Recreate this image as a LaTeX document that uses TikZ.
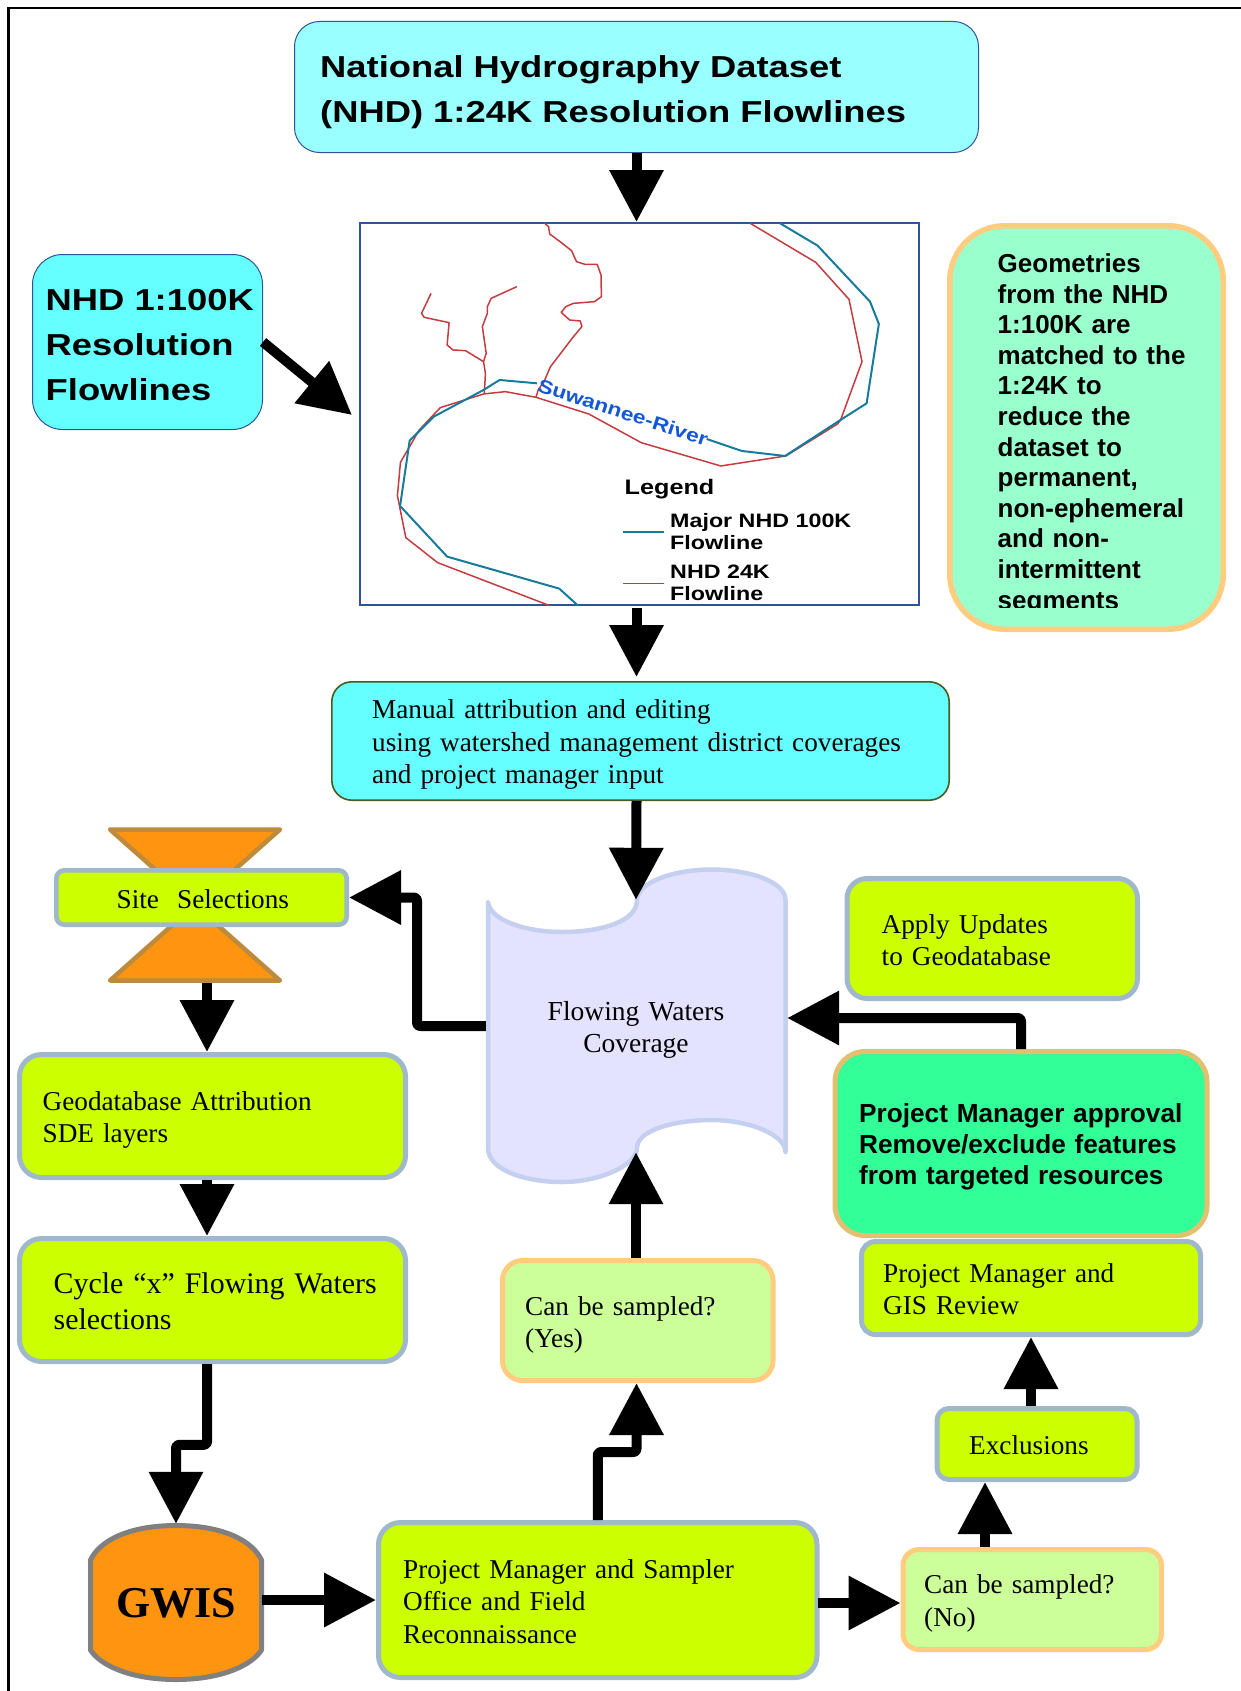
\documentclass[tikz,border=0pt]{standalone}
\usepackage{fontspec}
\usetikzlibrary{arrows.meta,calc}
\setmainfont{Liberation Serif}
\newfontfamily\wideb{Liberation Sans}[FakeStretch=1.2]
\newfontfamily\plainb{Liberation Sans}
\definecolor{lime}{HTML}{CCFF00}
\definecolor{limeedge}{HTML}{A0B8CC}
\definecolor{palegreen}{HTML}{CCFF99}
\definecolor{peach}{HTML}{FFCC80}
\definecolor{orangefill}{HTML}{FF9410}
\definecolor{orangeedge}{HTML}{BE8A3C}
\definecolor{sheetfill}{HTML}{E3E3FF}
\definecolor{sheetedge}{HTML}{C5D0F0}
\definecolor{mapframe}{HTML}{2F5597}
\definecolor{riverblue}{HTML}{177B9C}
\definecolor{riverred}{HTML}{C43C40}
\definecolor{riverlabel}{HTML}{1458D8}
\definecolor{topfill}{HTML}{99FFFF}
\definecolor{cyanfill}{HTML}{66FFFF}
\definecolor{notefill}{HTML}{99FFCC}
\definecolor{oliveedge}{HTML}{4B5A20}
\definecolor{gwisedge}{HTML}{808080}
\definecolor{apprfill}{HTML}{33FF99}
\definecolor{appredge}{HTML}{E2C070}
\tikzset{
  limebox/.style={draw=limeedge,fill=lime},
  paleb/.style={draw=peach,fill=palegreen},
  conn/.style={-{Triangle[length=52pt,width=52pt]},line width=10pt,black,line join=round},
  elbow/.style={conn,rounded corners=3pt},
  tx/.style={anchor=base west,inner sep=0pt,text width=800pt,align=left},
  redline/.style={riverred,line width=1.5pt,line join=round},
  blueline/.style={riverblue,line width=2pt,line join=round},
}
% style, line width, radius, name, x1, y1, x2, y2 (outer edges)
\newcommand{\bx}[8]{\node[rectangle,#1,line width=#2pt,rounded corners=#3pt,inner sep=0pt,
   minimum width={#7-#5-#2},minimum height={#8-#6-#2}] (#4) at ({(#5+#7)/2},{(#6+#8)/2}) {};}
\newcommand{\tx}[5]{\node[tx,font=#1] (#2) at (#3,#4) {#5};}
\newcommand{\fser}{\fontsize{27.2}{32.5}\selectfont}
\begin{document}
\begin{tikzpicture}[x=1pt,y=-1pt]
\useasboundingbox (0,0) rectangle (1241,1691);
% outer frame
\draw[black,line width=2.6pt] (8.5,1691) -- (8.5,8) -- (1241,8);

% top boxes
\bx{draw=mapframe,fill=topfill}{1}{25}{top}{294}{21}{979}{153}
\tx{\wideb\bfseries\fontsize{30.3}{45}\selectfont}{topT}{320}{78}{National Hydrography Dataset\\(NHD) 1:24K Resolution Flowlines}
\bx{draw=mapframe,fill=cyanfill}{1}{30}{nhd}{32}{254}{263}{430}
\tx{\wideb\bfseries\fontsize{30.3}{45}\selectfont}{nhdT}{45.5}{310}{NHD 1:100K\\Resolution\\Flowlines}

% map
\bx{draw=mapframe,fill=white}{1.6}{0}{map}{359}{222}{920}{606}
\begin{scope}[shift={(340,210)},x=0.3827pt,y=-0.3333pt]
\draw[redline] (1072,40)--(1243,157)--(1330,268)--(1364,455)--(1308,630)--(1300,642)--(1165,738)--(995,768)--(787,698)--(650,612)--(512,562)--(432,545)--(375,552)--(262,593)--(207,660)--(158,757)--(150,857)--(172,983)--(255,1058)--(548,1187);
\draw[redline] (535,40)--(545,50)--(548,72)--(575,95)--(605,122)--(618,155)--(640,163)--(672,163)--(682,195)--(683,260)--(665,275)--(610,280)--(590,290)--(578,307)--(600,330)--(628,333)--(632,350)--(610,380)--(550,470)--(535,510)--(518,540)--(512,562);
\draw[redline] (462,230)--(395,265)--(385,290)--(385,310)--(372,350)--(382,430)--(375,455)--(380,490)--(377,552);
\draw[redline] (238,250)--(213,310)--(220,322)--(285,338)--(280,405)--(295,420)--(328,422)--(375,455);
\draw[blueline] (1150,40)--(1248,107)--(1385,275)--(1408,342)--(1376,580)--(1305,632)--(1163,738)--(1050,723)--(958,687);
\draw[blueline] (515,520)--(417,510)--(375,540)--(245,620)--(182,692)--(157,888)--(280,1040)--(573,1136)--(622,1187);
\draw[blueline] (740,966)--(847,966);
\draw[redline] (740,1120)--(847,1120);
\end{scope}
\node[font=\wideb\bfseries\fontsize{19}{22}\selectfont,text=riverlabel,rotate=-18,inner sep=0pt] (river) at (623,412) {Suwannee-River};
\tx{\wideb\bfseries\fontsize{21}{24}\selectfont}{legT}{624.5}{494}{Legend}
\tx{\wideb\bfseries\fontsize{19.4}{22}\selectfont}{leg1}{670}{527}{Major NHD 100K\\Flowline}
\tx{\wideb\bfseries\fontsize{19.4}{22.5}\selectfont}{leg2}{670}{578}{NHD 24K\\Flowline}

% geometries note
\bx{draw=peach,fill=notefill}{5.5}{55}{geo}{947}{223}{1226}{632}
\begin{scope}
\clip (940,215) rectangle (1235,607);
\tx{\plainb\bfseries\fontsize{26}{30.6}\selectfont}{geoT}{997.5}{272.5}{Geometries\\from the NHD\\1:100K are\\matched to the\\1:24K to\\reduce the\\dataset to\\permanent,\\non-ephemeral\\and non-\\intermittent\\segments}
\end{scope}

% manual
\bx{draw=oliveedge,fill=cyanfill}{1.6}{20}{manual}{331}{681}{950}{801}
\tx{\fser}{manualT}{372}{718.5}{Manual attribution and editing\\using watershed management district coverages\\and project manager input}

% flowing waters sheet
\draw[draw=sheetedge,fill=sheetfill,line width=4.5pt,line join=round,line cap=round]
  (488,902) .. controls (490,920) and (525,932) .. (562,932) .. controls (600,932) and (637,922) .. (637,900)
  .. controls (637,882) and (675,869.5) .. (711,869.5) .. controls (750,869.5) and (785.5,882) .. (785.5,900)
  -- (785.5,1152) .. controls (785.5,1135) and (750,1120) .. (711,1120) .. controls (675,1120) and (637,1130) .. (637,1148)
  .. controls (637,1165) and (600,1182) .. (562,1182) .. controls (525,1182) and (488,1170) .. (488,1148) -- cycle;
\node[inner sep=0pt,minimum width=300pt,minimum height=252pt] (flow) at (636,1026) {};
\node[anchor=base,inner sep=0pt,text width=290pt,align=center,font=\fontsize{27.5}{32}\selectfont] (flowT) at (636,1020) {Flowing Waters\\Coverage};

% site selections with hourglass
\draw[draw=orangeedge,fill=orangefill,line width=4.5pt,line join=round]
  (110,829.5) -- (280,829.5) -- (110,980.5) -- (280,980.5) -- cycle;
\node[inner sep=0pt,minimum width=176pt,minimum height=156pt] (hg) at (195,905) {};
\bx{limebox}{4.7}{8}{site}{54}{868}{349}{927}
\tx{\fser}{siteT}{116.5}{908}{Site\ \ Selections}

\bx{limebox}{5}{22}{geodb}{17}{1052}{408}{1180}
\tx{\fser}{geodbT}{42.5}{1110}{Geodatabase Attribution\\SDE layers}
\bx{limebox}{5}{22}{cycle}{17}{1236}{408}{1364}
\tx{\fontsize{29.9}{36}\selectfont}{cycleT}{53.5}{1293}{Cycle “x” Flowing Waters\\selections}

% GWIS
\draw[draw=gwisedge,fill=orangefill,line width=5pt,line join=round]
  (90.5,1560) .. controls (100,1540) and (130,1525.5) .. (176,1525.5) .. controls (222,1525.5) and (252,1540) .. (261.5,1560)
  -- (261.5,1650) .. controls (252,1665) and (222,1679.5) .. (176,1679.5) .. controls (130,1679.5) and (100,1665) .. (90.5,1650) -- cycle;
\node[inner sep=0pt,minimum width=176pt,minimum height=159pt,font=\bfseries\fontsize{44}{48}\selectfont] (gwis) at (176,1603.5) {GWIS};

\bx{limebox}{5}{22}{pm}{376}{1520}{819.5}{1680}
\tx{\fser}{pmT}{403}{1578}{Project Manager and Sampler\\Office and Field\\Reconnaissance}
\bx{paleb}{5}{20}{yes}{500}{1258}{775.5}{1383}
\tx{\fser}{yesT}{525}{1315}{Can be sampled?\\(Yes)}
\bx{paleb}{5}{16}{no}{900.5}{1547}{1164}{1652}
\tx{\fser}{noT}{924}{1593.5}{Can be sampled?\\(No)}
\bx{limebox}{5}{20}{apply}{844.5}{876}{1140}{1001}
\tx{\fser}{applyT}{881.5}{933}{Apply Updates\\to Geodatabase}
\bx{draw=appredge,fill=apprfill}{5}{30}{appr}{832.5}{1049}{1209.5}{1238}
\tx{\plainb\bfseries\fontsize{26.2}{31}\selectfont}{apprT}{859}{1122}{Project Manager approval\\Remove/exclude features\\from targeted resources}
\bx{limebox}{5}{14}{pmg}{859}{1239}{1203}{1337}
\tx{\fser}{pmgT}{883}{1282}{Project Manager and\\GIS Review}
\bx{limebox}{5}{12}{excl}{934.5}{1406}{1139.5}{1482}
\tx{\fser}{exclT}{969}{1454}{Exclusions}

% connector helpers
\coordinate (mapin) at ($(map.west)+(-7,1)$);
\coordinate (geoin) at ($(geodb.north)+(-5.5,0)$);
\coordinate (flowin) at ($(flow.east)+(1,-8)$);
\coordinate (yesin) at (top.south |- yes.south);
\coordinate (noin) at ($(no.west)+(0,3.5)$);
\coordinate (exin) at ($(excl.south)+(-52,0)$);

% connectors
\draw[conn] (top.south) -- (top.south |- map.north);
\draw[conn] (nhd.east) -- (mapin);
\draw[conn,shorten <=2pt,shorten >=4pt] (top.south |- map.south) -- (top.south |- manual.north);
\draw[conn] (top.south |- manual.south) -- (flow.north);
\draw[elbow] (flow.west) -| ($(site.east)+(68,0)$) -- (site.east);
\draw[conn] (geoin |- hg.south) -- (geoin);
\draw[conn] (geoin |- geodb.south) -- (geoin |- cycle.north);
\draw[elbow] (geoin |- cycle.south) |- ($(gwis.north)+(0,-79)$) -- (gwis.north);
\draw[conn,shorten <=-2pt] (gwis.east |- pm.west) -- (pm.west);
\draw[elbow] (pm.north) |- ($(yesin)+(0,69)$) -- (yesin);
\draw[conn] (flow.south |- yes.north) -- (flow.south);
\draw[conn,shorten <=-2pt] (pm.east |- noin) -- (noin);
\draw[conn] (exin |- no.north) -- (exin);
\draw[conn] (pmg.south |- excl.north) -- (pmg.south);
\draw[elbow] (appr.north) |- (flowin);
\end{tikzpicture}
\end{document}
